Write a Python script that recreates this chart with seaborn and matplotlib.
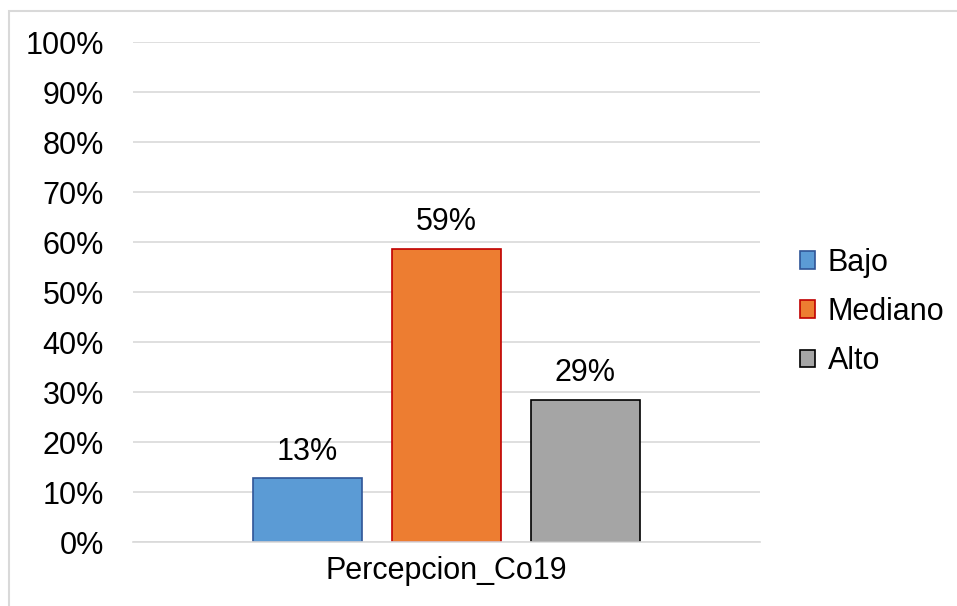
import seaborn as sns
import pandas as pd
import matplotlib.pyplot as plt
from matplotlib.patches import Rectangle

categoria = ['Percepcion_Co19']
niveles = ['Bajo', 'Mediano', 'Alto']
porcentajes = [12.8, 58.7, 28.5]
etiquetas = ['13%', '59%', '29%']
rellenos = ['#5B9BD5', '#ED7D31', '#A5A5A5']
bordes = ['#2F5597', '#C00000', '#000000']

df = pd.DataFrame({'cat': categoria * len(niveles), 'nivel': niveles, 'pct': porcentajes})

sns.set_style('white')
plt.rcParams['font.family'] = ['Liberation Sans', 'DejaVu Sans']
plt.rcParams['text.color'] = 'black'
plt.rcParams['xtick.color'] = 'black'
plt.rcParams['ytick.color'] = 'black'

fig = plt.figure(figsize=(9.57, 6.06), dpi=100)
W, H = 957, 606
ax = fig.add_axes([133 / W, (H - 542) / H, (760 - 133) / W, 500 / H])

sns.barplot(data=df, x='cat', y='pct', hue='nivel', hue_order=niveles,
            palette=rellenos, saturation=1, width=0.665, gap=0.21, ax=ax, legend=True)

for bar, borde in zip(ax.patches, bordes):
    bar.set_edgecolor(borde)
    bar.set_linewidth(1.2)

for cont, txt in zip(ax.containers, etiquetas):
    ax.bar_label(cont, labels=[txt], padding=8, fontsize=22)

ax.set_xlim(-0.5, 0.5)
ax.set_ylim(0, 100)
ax.set_yticks(range(0, 101, 10))
ax.set_yticklabels([f'{v}%' for v in range(0, 101, 10)], fontsize=22)
ax.tick_params(axis='x', labelsize=22, pad=10, length=0)
ax.tick_params(axis='y', pad=21, length=0)
ax.set_xlabel('')
ax.set_ylabel('')
ax.grid(axis='y', color='#D9D9D9', linewidth=1.2)
ax.set_axisbelow(True)
for lado in ['top', 'right', 'left']:
    ax.spines[lado].set_visible(False)
ax.spines['bottom'].set_color('#D9D9D9')
ax.spines['bottom'].set_linewidth(1.2)

handles, labels = ax.get_legend_handles_labels()
for h, borde in zip(handles, bordes):
    h.set_edgecolor(borde)
    h.set_linewidth(1.2)
ax.legend(handles, labels, loc='center left', bbox_to_anchor=(1.064, 0.46),
          frameon=False, fontsize=22, handlelength=0.5, handleheight=0.5,
          handletextpad=0.4, labelspacing=0.63, borderpad=0, borderaxespad=0)

fig.add_artist(Rectangle((9 / W, -0.1), 1.2, (H - 11) / H + 0.1,
                         transform=fig.transFigure, fill=False,
                         edgecolor='#D9D9D9', linewidth=1.5))

fig.savefig('out.png', dpi=100)
